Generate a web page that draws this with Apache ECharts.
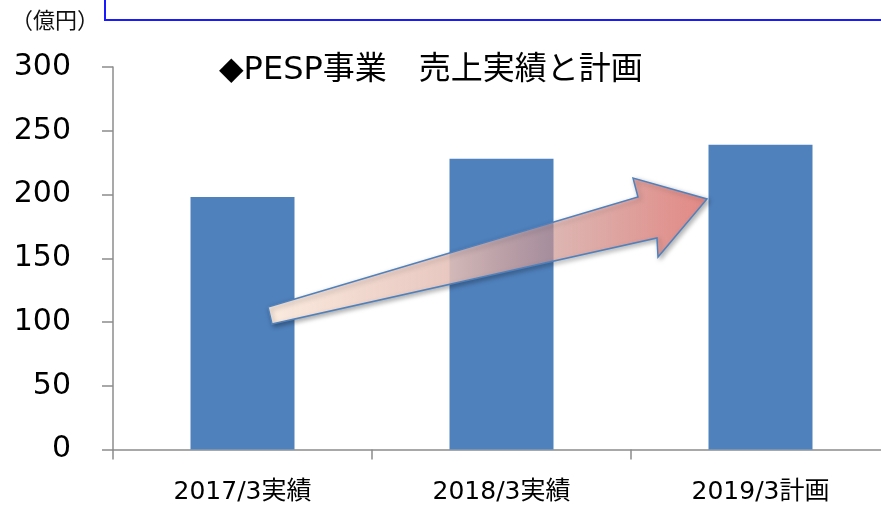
<!DOCTYPE html>
<html>
<head>
<meta charset="utf-8">
<script src="https://cdn.jsdelivr.net/npm/echarts@6/dist/echarts.min.js"></script>
<style>
  html, body { margin: 0; padding: 0; background: #fff; }
  #chart { width: 881px; height: 505px; }
</style>
</head>
<body>
<div id="chart"></div>
<script>
// 売上データ（億円）
const categories = ['2017/3実績', '2018/3実績', '2019/3計画']
const sales = [198, 228, 239]
const yTicks = [0, 50, 100, 150, 200, 250, 300]

const FONT = '"DejaVu Sans", "Noto Sans CJK JP", sans-serif'
const CJK = '"Noto Sans CJK JP", sans-serif'
const chart = echarts.init(document.getElementById('chart'))

chart.setOption({
    animation: false,
    grid: { left: 113, width: 777, top: 67, bottom: 55.5, outerBoundsMode: 'none' },
    xAxis: {
        type: 'category',
        data: categories,
        axisLine: { lineStyle: { color: '#8c8c8c', width: 1.5 } },
        axisTick: { show: true, length: 10, lineStyle: { color: '#8c8c8c', width: 1.5 } },
        axisLabel: { color: '#000', fontSize: 25, fontFamily: FONT, margin: 30 }
    },
    yAxis: {
        type: 'value',
        min: yTicks[0],
        max: yTicks[yTicks.length - 1],
        interval: 50,
        splitLine: { show: false },
        axisLine: { show: true, lineStyle: { color: '#8c8c8c', width: 1.5 } },
        axisTick: { show: true, length: 11, lineStyle: { color: '#8c8c8c', width: 1.5 } },
        axisLabel: { color: '#000', fontSize: 30, fontFamily: FONT, margin: 42 }
    },
    series: [{
        type: 'bar',
        data: sales,
        barWidth: 104,
        itemStyle: { color: '#4f81bd' }
    }],
    graphic: [
        // 上部の青枠
        {
            type: 'rect',
            shape: { x: 105, y: -20, width: 820, height: 40 },
            style: { fill: 'none', stroke: '#1a1aff', lineWidth: 2 }
        },
        {
            type: 'text',
            left: 11, top: 9,
            style: { text: '（億円）', fontSize: 22, fontFamily: CJK, fill: '#111' }
        },
        {
            type: 'text',
            left: 219, top: 55,
            style: { text: '◆PESP事業　売上実績と計画', fontSize: 32, fontFamily: FONT, fill: '#000' }
        },
        // 成長の矢印
        {
            type: 'polygon',
            z: 100,
            shape: {
                points: [[268, 307], [638, 197], [633, 178], [707, 199], [658, 257], [657, 238], [272, 324]]
            },
            style: {
                fill: {
                    type: 'linear', x: 0, y: 0, x2: 1, y2: 0,
                    colorStops: [
                        { offset: 0, color: 'rgba(252,236,224,1)' },
                        { offset: 0.4, color: 'rgba(242,205,196,0.85)' },
                        { offset: 0.65, color: 'rgba(234,168,162,0.6)' },
                        { offset: 1, color: 'rgba(233,132,128,0.9)' }
                    ]
                },
                stroke: '#4f81bd',
                lineWidth: 1.5,
                shadowBlur: 5,
                shadowOffsetX: 2,
                shadowOffsetY: 2,
                shadowColor: 'rgba(0,0,0,0.35)'
            }
        }
    ]
})
</script>
</body>
</html>
